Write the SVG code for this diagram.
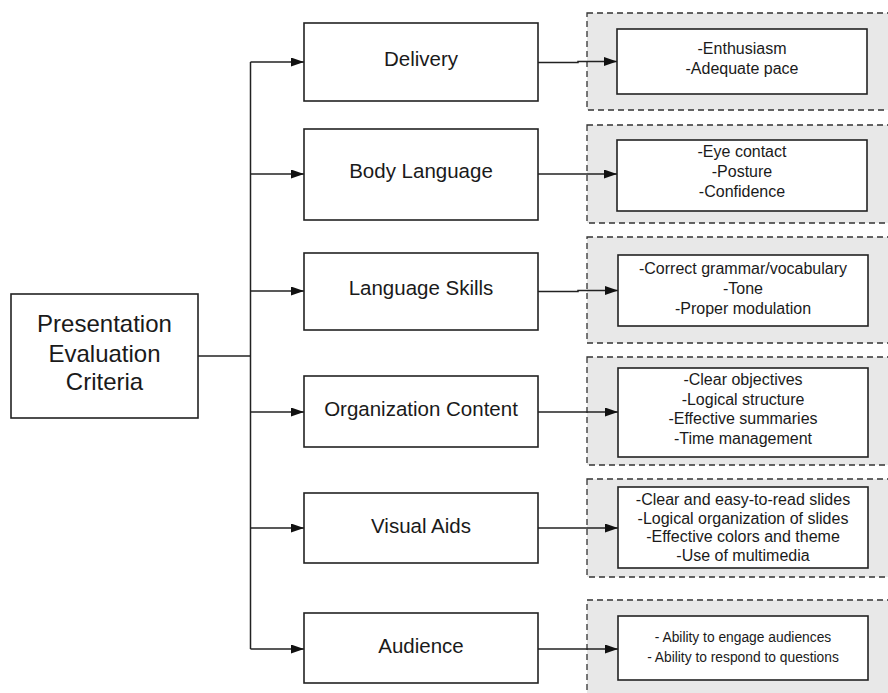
<svg xmlns="http://www.w3.org/2000/svg" width="888" height="693" viewBox="0 0 888 693">
<defs>
<style>
.box{fill:#fff;stroke:#222;stroke-width:1.6}
.grp{fill:#e8e8e8;stroke:#333;stroke-width:1.3;stroke-dasharray:6 4}
.ln{fill:none;stroke:#222;stroke-width:1.5}
text{font-family:"Liberation Sans",Arial,sans-serif;fill:#1a1a1a;text-anchor:middle}
.t1{font-size:24px}
.t2{font-size:20.5px}
.t3{font-size:16px}
.t4{font-size:13.8px}
</style>
<marker id="ah" viewBox="0 0 13 9" refX="13" refY="4.5" markerWidth="13" markerHeight="9" markerUnits="userSpaceOnUse" orient="auto">
<path d="M0,0 L13,4.5 L0,9 Z" fill="#111"/>
</marker>
</defs>
<rect width="888" height="693" fill="#fff"/>

<g id="groups">
<rect class="grp" x="587" y="13" width="305" height="97"/>
<rect class="grp" x="587" y="125" width="305" height="98"/>
<rect class="grp" x="587" y="237" width="305" height="106"/>
<rect class="grp" x="587" y="357" width="305" height="108"/>
<rect class="grp" x="587" y="479" width="305" height="98"/>
<rect class="grp" x="587" y="600" width="305" height="100"/>
</g>

<g id="connectors">
<path class="ln" d="M198,356 H250.5"/>
<path class="ln" d="M250.5,62 V649"/>
<path class="ln" d="M250.5,62 H304" marker-end="url(#ah)"/>
<path class="ln" d="M250.5,174 H304" marker-end="url(#ah)"/>
<path class="ln" d="M250.5,291 H304" marker-end="url(#ah)"/>
<path class="ln" d="M250.5,412 H304" marker-end="url(#ah)"/>
<path class="ln" d="M250.5,528 H304" marker-end="url(#ah)"/>
<path class="ln" d="M250.5,649 H304" marker-end="url(#ah)"/>
<path class="ln" d="M538,62.5 H578 V61.5 H617" marker-end="url(#ah)"/>
<path class="ln" d="M538,174 H617" marker-end="url(#ah)"/>
<path class="ln" d="M538,291.5 H578 V290.5 H618" marker-end="url(#ah)"/>
<path class="ln" d="M538,412 H618" marker-end="url(#ah)"/>
<path class="ln" d="M538,528 H618" marker-end="url(#ah)"/>
<path class="ln" d="M538,649 H618" marker-end="url(#ah)"/>
</g>

<g id="root">
<rect class="box" x="11" y="294" width="187" height="124"/>
<text class="t1" x="104.5" y="332">Presentation</text>
<text class="t1" x="104.5" y="361.5">Evaluation</text>
<text class="t1" x="104.5" y="390">Criteria</text>
</g>

<g id="delivery">
<rect class="box" x="304" y="23" width="234" height="78"/>
<text class="t2" x="421" y="66">Delivery</text>
</g>
<g id="body-language">
<rect class="box" x="304" y="129" width="234" height="91"/>
<text class="t2" x="421" y="178">Body Language</text>
</g>
<g id="language-skills">
<rect class="box" x="304" y="253" width="234" height="77"/>
<text class="t2" x="421" y="295">Language Skills</text>
</g>
<g id="organization-content">
<rect class="box" x="304" y="376" width="234" height="71"/>
<text class="t2" x="421" y="416">Organization Content</text>
</g>
<g id="visual-aids">
<rect class="box" x="304" y="493" width="234" height="70"/>
<text class="t2" x="421" y="533">Visual Aids</text>
</g>
<g id="audience">
<rect class="box" x="304" y="613" width="234" height="70"/>
<text class="t2" x="421" y="653">Audience</text>
</g>

<g id="delivery-details">
<rect class="box" x="617" y="29" width="250" height="65"/>
<text class="t3" x="742" y="54">-Enthusiasm</text>
<text class="t3" x="742" y="74">-Adequate pace</text>
</g>
<g id="body-language-details">
<rect class="box" x="617" y="140" width="250" height="71"/>
<text class="t3" x="742" y="157">-Eye contact</text>
<text class="t3" x="742" y="177">-Posture</text>
<text class="t3" x="742" y="197">-Confidence</text>
</g>
<g id="language-skills-details">
<rect class="box" x="618" y="255" width="250" height="71"/>
<text class="t3" x="743" y="274">-Correct grammar/vocabulary</text>
<text class="t3" x="743" y="294">-Tone</text>
<text class="t3" x="743" y="314">-Proper modulation</text>
</g>
<g id="organization-content-details">
<rect class="box" x="618" y="368" width="250" height="89"/>
<text class="t3" x="743" y="385">-Clear objectives</text>
<text class="t3" x="743" y="404.5">-Logical structure</text>
<text class="t3" x="743" y="424">-Effective summaries</text>
<text class="t3" x="743" y="443.5">-Time management</text>
</g>
<g id="visual-aids-details">
<rect class="box" x="618" y="487" width="250" height="81"/>
<text class="t3" x="743" y="505">-Clear and easy-to-read slides</text>
<text class="t3" x="743" y="523.5">-Logical organization of slides</text>
<text class="t3" x="743" y="542">-Effective colors and theme</text>
<text class="t3" x="743" y="560.5">-Use of multimedia</text>
</g>
<g id="audience-details">
<rect class="box" x="618" y="616" width="250" height="64"/>
<text class="t4" x="743" y="642">- Ability to engage audiences</text>
<text class="t4" x="743" y="662">- Ability to respond to questions</text>
</g>
</svg>
